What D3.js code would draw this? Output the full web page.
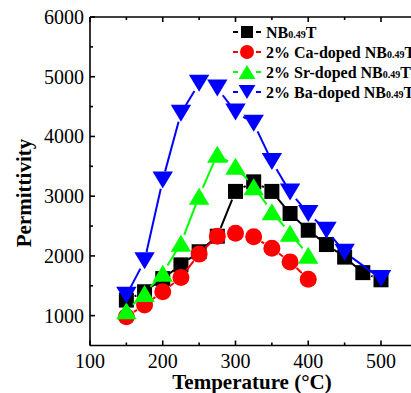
<!DOCTYPE html>
<html>
<head>
<meta charset="utf-8">
<script src="https://cdn.jsdelivr.net/npm/d3@7"></script>
<style>
body { margin: 0; background: #fff; }
svg { display: block; }
text { font-family: "Liberation Serif", "Times New Roman", serif; }
</style>
</head>
<body>
<div id="chart"></div>
<script>
// temperatures (°C)
var tempsLong = [150, 175, 200, 225, 250, 275, 300, 325, 350, 375, 400, 425, 450, 475, 500];
var tempsShort = [150, 175, 200, 225, 250, 275, 300, 325, 350, 375, 400];
var tempsBa = [150, 175, 200, 225, 250, 275, 300, 325, 350, 375, 400, 425, 450, 500];

var nbValues = [1260, 1400, 1620, 1850, 2070, 2330, 3080, 3240, 3080, 2710, 2430, 2190, 1980, 1720, 1600];
var caValues = [980, 1180, 1400, 1640, 2030, 2330, 2380, 2320, 2130, 1900, 1610];
var srValues = [1080, 1370, 1710, 2210, 3000, 3700, 3500, 3160, 2740, 2380, 2010];
var baValues = [1340, 1920, 3270, 4390, 4890, 4810, 4410, 4220, 3580, 3070, 2710, 2430, 2060, 1620];

var xTicks = [100, 200, 300, 400, 500];
var yTicks = [1000, 2000, 3000, 4000, 5000, 6000];

var series = [
	{label: "NB", prefix: "", temps: tempsLong, values: nbValues, color: "#000000", shape: "square"},
	{label: "NB", prefix: "2% Ca-doped ", temps: tempsShort, values: caValues, color: "#ff0000", shape: "circle"},
	{label: "NB", prefix: "2% Sr-doped ", temps: tempsShort, values: srValues, color: "#00ff00", shape: "up"},
	{label: "NB", prefix: "2% Ba-doped ", temps: tempsBa, values: baValues, color: "#0000ff", shape: "down"}
];

var W = 411, H = 393;
var svg = d3.select("#chart").append("svg").attr("width", W).attr("height", H);

var mLeft = 90, mTop = 17, mBottom = 345.5;
var x = d3.scaleLinear().domain([100, 550]).range([mLeft, mLeft + 450 * 0.7275]);
var y = d3.scaleLinear().domain([500, 6000]).range([mBottom, mTop]);

function shapePath(shape, s) {
	if (shape === "square") return d3.symbol(d3.symbolSquare, s * s)();
	if (shape === "circle") return d3.symbol(d3.symbolCircle, Math.PI * s * s / 4)();
	var w = s * 1.2, h = s;
	if (shape === "up") return "M0," + (-h / 2) + "L" + (w / 2) + "," + (h / 2) + "L" + (-w / 2) + "," + (h / 2) + "Z";
	return "M0," + (h / 2) + "L" + (w / 2) + "," + (-h / 2) + "L" + (-w / 2) + "," + (-h / 2) + "Z";
}
var markerSize = {square: 15, circle: 17, up: 17, down: 17};

// plot series
var plot = svg.append("g");
series.forEach(function (s) {
	var pts = s.temps.map(function (t, i) { return [x(t), y(s.values[i])]; });
	var g = plot.append("g");
	var gap = 9;
	for (var i = 0; i < pts.length - 1; i++) {
		var a = pts[i], b = pts[i + 1];
		var dx = b[0] - a[0], dy = b[1] - a[1], len = Math.sqrt(dx * dx + dy * dy);
		if (len <= 2 * gap + 1) continue;
		var ux = dx / len, uy = dy / len;
		g.append("line")
			.attr("x1", a[0] + ux * gap).attr("y1", a[1] + uy * gap)
			.attr("x2", b[0] - ux * gap).attr("y2", b[1] - uy * gap)
			.attr("stroke", s.color).attr("stroke-width", 2);
	}
	g.selectAll("path.m").data(pts).enter().append("path")
		.attr("class", "m")
		.attr("transform", function (d) { return "translate(" + d[0] + "," + d[1] + ")"; })
		.attr("d", shapePath(s.shape, markerSize[s.shape]))
		.attr("fill", s.color);
});

// axes
var axisG = svg.append("g").attr("stroke", "#000").attr("stroke-width", 1.6);
axisG.append("line").attr("x1", mLeft).attr("x2", W + 10).attr("y1", mTop).attr("y2", mTop);
axisG.append("line").attr("x1", mLeft).attr("x2", W + 10).attr("y1", mBottom).attr("y2", mBottom);
axisG.append("line").attr("x1", mLeft).attr("x2", mLeft).attr("y1", mTop).attr("y2", mBottom);

var xMinor = d3.range(150, 551, 100);
var yMinor = d3.range(1500, 6000, 1000);
xTicks.forEach(function (t) {
	axisG.append("line").attr("x1", x(t)).attr("x2", x(t)).attr("y1", mBottom).attr("y2", mBottom - 5);
	axisG.append("line").attr("x1", x(t)).attr("x2", x(t)).attr("y1", mTop).attr("y2", mTop + 5);
});
xMinor.forEach(function (t) {
	axisG.append("line").attr("x1", x(t)).attr("x2", x(t)).attr("y1", mBottom).attr("y2", mBottom - 3);
	axisG.append("line").attr("x1", x(t)).attr("x2", x(t)).attr("y1", mTop).attr("y2", mTop + 3);
});
yTicks.forEach(function (v) {
	axisG.append("line").attr("x1", mLeft).attr("x2", mLeft + 5).attr("y1", y(v)).attr("y2", y(v));
});
yMinor.forEach(function (v) {
	axisG.append("line").attr("x1", mLeft).attr("x2", mLeft + 3).attr("y1", y(v)).attr("y2", y(v));
});

svg.append("g").selectAll("text").data(xTicks).enter().append("text")
	.attr("x", function (d) { return x(d); })
	.attr("y", 368)
	.attr("text-anchor", "middle")
	.attr("font-size", 20)
	.text(function (d) { return d; });

svg.append("g").selectAll("text").data(yTicks).enter().append("text")
	.attr("x", 84)
	.attr("y", function (d) { return y(d); })
	.attr("dy", "0.35em")
	.attr("text-anchor", "end")
	.attr("font-size", 20)
	.text(function (d) { return d; });

svg.append("text")
	.attr("x", 252).attr("y", 389)
	.attr("text-anchor", "middle")
	.attr("font-size", 21).attr("font-weight", "bold")
	.text("Temperature (\u00B0C)");

svg.append("text")
	.attr("transform", "translate(31,193) rotate(-90)")
	.attr("text-anchor", "middle")
	.attr("font-size", 21).attr("font-weight", "bold")
	.text("Permittivity");

// legend
var legendY = [32, 52, 72, 92];
var leg = svg.append("g");
series.forEach(function (s, i) {
	var ly = legendY[i];
	var g = leg.append("g");
	g.append("line").attr("x1", 233).attr("x2", 238).attr("y1", ly).attr("y2", ly).attr("stroke", s.color).attr("stroke-width", 2);
	g.append("line").attr("x1", 256).attr("x2", 261).attr("y1", ly).attr("y2", ly).attr("stroke", s.color).attr("stroke-width", 2);
	g.append("path").attr("transform", "translate(247," + ly + ")")
		.attr("d", shapePath(s.shape, s.shape === "square" ? 12 : 14))
		.attr("fill", s.color);
	var t = g.append("text").attr("x", 266).attr("y", ly + 6)
		.attr("font-size", 16).attr("font-weight", "bold");
	t.append("tspan").text(s.prefix + s.label);
	t.append("tspan").attr("font-size", 10).text("0.49");
	t.append("tspan").text("T");
});
</script>
</body>
</html>
